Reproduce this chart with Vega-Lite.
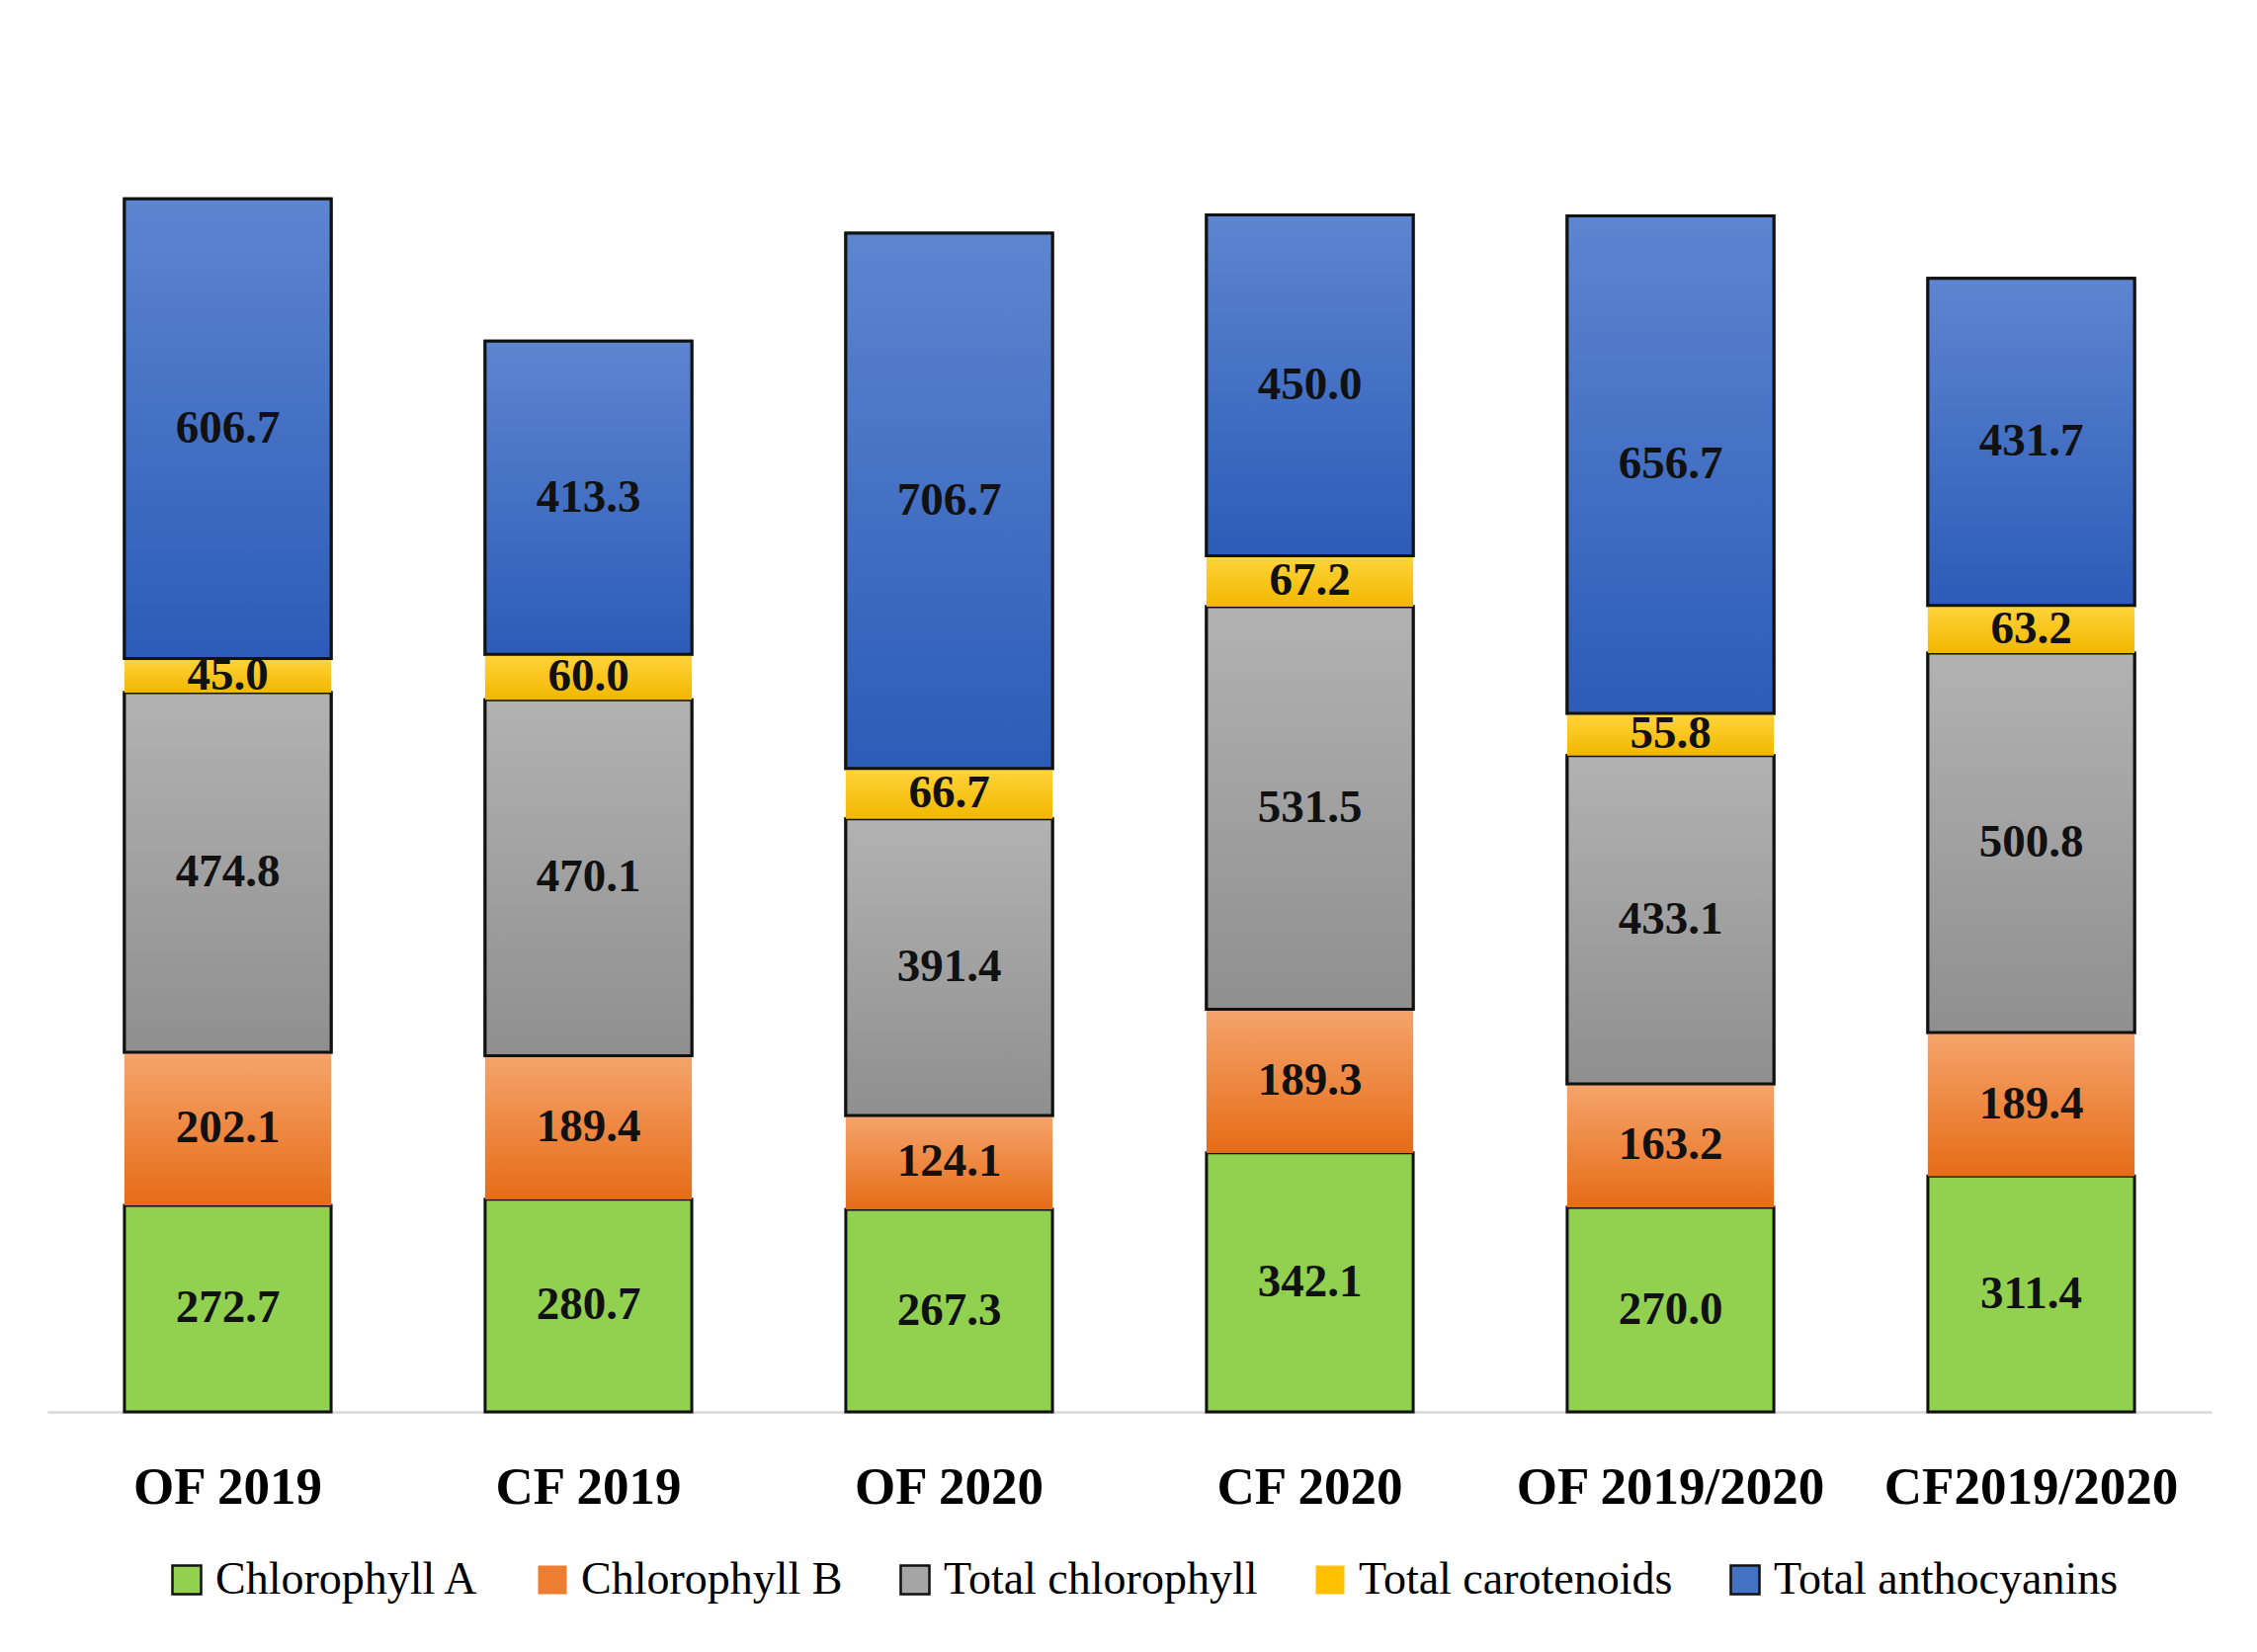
{
  "$schema": "https://vega.github.io/schema/vega-lite/v6.json",
  "width": 2190,
  "height": 1380,
  "autosize": {"type": "none"},
  "padding": {"left": 48, "top": 49, "right": 46, "bottom": 243},
  "background": "white",
  "config": {
    "view": {"stroke": null},
    "font": "Liberation Serif"
  },
  "data": {
    "values": [
      {"group": "OF 2019", "series": "Chlorophyll A", "value": 272.7},
      {"group": "OF 2019", "series": "Chlorophyll B", "value": 202.1},
      {"group": "OF 2019", "series": "Total chlorophyll", "value": 474.8},
      {"group": "OF 2019", "series": "Total carotenoids", "value": 45.0},
      {"group": "OF 2019", "series": "Total anthocyanins", "value": 606.7},
      {"group": "CF 2019", "series": "Chlorophyll A", "value": 280.7},
      {"group": "CF 2019", "series": "Chlorophyll B", "value": 189.4},
      {"group": "CF 2019", "series": "Total chlorophyll", "value": 470.1},
      {"group": "CF 2019", "series": "Total carotenoids", "value": 60.0},
      {"group": "CF 2019", "series": "Total anthocyanins", "value": 413.3},
      {"group": "OF 2020", "series": "Chlorophyll A", "value": 267.3},
      {"group": "OF 2020", "series": "Chlorophyll B", "value": 124.1},
      {"group": "OF 2020", "series": "Total chlorophyll", "value": 391.4},
      {"group": "OF 2020", "series": "Total carotenoids", "value": 66.7},
      {"group": "OF 2020", "series": "Total anthocyanins", "value": 706.7},
      {"group": "CF 2020", "series": "Chlorophyll A", "value": 342.1},
      {"group": "CF 2020", "series": "Chlorophyll B", "value": 189.3},
      {"group": "CF 2020", "series": "Total chlorophyll", "value": 531.5},
      {"group": "CF 2020", "series": "Total carotenoids", "value": 67.2},
      {"group": "CF 2020", "series": "Total anthocyanins", "value": 450.0},
      {"group": "OF 2019/2020", "series": "Chlorophyll A", "value": 270.0},
      {"group": "OF 2019/2020", "series": "Chlorophyll B", "value": 163.2},
      {"group": "OF 2019/2020", "series": "Total chlorophyll", "value": 433.1},
      {"group": "OF 2019/2020", "series": "Total carotenoids", "value": 55.8},
      {"group": "OF 2019/2020", "series": "Total anthocyanins", "value": 656.7},
      {"group": "CF2019/2020", "series": "Chlorophyll A", "value": 311.4},
      {"group": "CF2019/2020", "series": "Chlorophyll B", "value": 189.4},
      {"group": "CF2019/2020", "series": "Total chlorophyll", "value": 500.8},
      {"group": "CF2019/2020", "series": "Total carotenoids", "value": 63.2},
      {"group": "CF2019/2020", "series": "Total anthocyanins", "value": 431.7}
    ]
  },
  "transform": [
    {"stack": "value", "groupby": ["group"], "as": ["y0", "y1"]}
  ],
  "encoding": {
    "x": {
      "field": "group",
      "type": "nominal",
      "sort": ["OF 2019", "CF 2019", "OF 2020", "CF 2020", "OF 2019/2020", "CF2019/2020"],
      "scale": {"paddingInner": 0.427, "paddingOuter": 0.2135},
      "axis": {
        "title": null,
        "labelAngle": 0,
        "labelFont": "Liberation Serif",
        "labelFontWeight": "bold",
        "labelFontSize": 53,
        "labelColor": "black",
        "labelPadding": 50,
        "labelLimit": 0,
        "ticks": false,
        "domainColor": "#D9D9D9",
        "domainWidth": 2.5,
        "grid": false
      }
    },
    "y": {
      "field": "y0",
      "type": "quantitative",
      "scale": {"domain": [0, 1800], "nice": false},
      "axis": null
    },
    "y2": {"field": "y1"}
  },
  "layer": [
    {
      "mark": {"type": "bar", "strokeWidth": 3},
      "encoding": {
        "color": {
          "field": "series",
          "type": "nominal",
          "scale": {
            "domain": ["Chlorophyll A", "Chlorophyll B", "Total chlorophyll", "Total carotenoids", "Total anthocyanins"],
            "range": ["#92D050", "#ED7D31", "#A5A5A5", "#FFC000", "#4472C4"]
          },
          "legend": {
            "title": null,
            "orient": "none",
            "legendX": 118,
            "legendY": 1527,
            "direction": "horizontal",
            "columns": 5,
            "columnPadding": 50,
            "symbolType": "square",
            "symbolSize": 841,
            "symbolStrokeWidth": 2.5,
            "symbolOpacity": 1,
            "labelFont": "Liberation Serif",
            "labelFontSize": 46,
            "labelColor": "black",
            "labelOffset": 6,
            "labelLimit": 600
          }
        },
        "stroke": {
          "field": "series",
          "type": "nominal",
          "scale": {
            "domain": ["Chlorophyll A", "Chlorophyll B", "Total chlorophyll", "Total carotenoids", "Total anthocyanins"],
            "range": ["#111111", "transparent", "#111111", "transparent", "#111111"]
          },
          "legend": {
            "title": null,
            "orient": "none",
            "legendX": 118,
            "legendY": 1527,
            "direction": "horizontal",
            "columns": 5,
            "columnPadding": 50,
            "symbolType": "square",
            "symbolSize": 841,
            "symbolStrokeWidth": 2.5,
            "labelFont": "Liberation Serif",
            "labelFontSize": 46,
            "labelColor": "black",
            "labelOffset": 6,
            "labelLimit": 600
          }
        }
      }
    },
    {
      "transform": [{"filter": "datum.series === 'Chlorophyll B'"}],
      "mark": {
        "type": "bar",
        "strokeWidth": 0,
        "fill": {"gradient": "linear", "x1": 0, "y1": 0, "x2": 0, "y2": 1,
          "stops": [{"offset": 0, "color": "#F5A46C"}, {"offset": 1, "color": "#E66C17"}]}
      }
    },
    {
      "transform": [{"filter": "datum.series === 'Total chlorophyll'"}],
      "mark": {
        "type": "bar",
        "stroke": "#111111",
        "strokeWidth": 3,
        "fill": {"gradient": "linear", "x1": 0, "y1": 0, "x2": 0, "y2": 1,
          "stops": [{"offset": 0, "color": "#B2B2B2"}, {"offset": 1, "color": "#8F8F8F"}]}
      }
    },
    {
      "transform": [{"filter": "datum.series === 'Total carotenoids'"}],
      "mark": {
        "type": "bar",
        "strokeWidth": 0,
        "fill": {"gradient": "linear", "x1": 0, "y1": 0, "x2": 0, "y2": 1,
          "stops": [{"offset": 0, "color": "#FFD43C"}, {"offset": 1, "color": "#F2B700"}]}
      }
    },
    {
      "transform": [{"filter": "datum.series === 'Total anthocyanins'"}],
      "mark": {
        "type": "bar",
        "stroke": "#111111",
        "strokeWidth": 3,
        "fill": {"gradient": "linear", "x1": 0, "y1": 0, "x2": 0, "y2": 1,
          "stops": [{"offset": 0, "color": "#5D85D0"}, {"offset": 1, "color": "#2C5CB8"}]}
      }
    },
    {
      "transform": [{"calculate": "(datum.y0 + datum.y1) / 2", "as": "mid"}],
      "mark": {
        "type": "text",
        "font": "Liberation Serif",
        "fontWeight": "bold",
        "fontSize": 47,
        "color": "#111111",
        "baseline": "middle",
        "align": "center"
      },
      "encoding": {
        "y": {"field": "mid", "type": "quantitative"},
        "y2": null,
        "text": {"field": "value", "type": "quantitative", "format": ".1f"}
      }
    }
  ]
}
